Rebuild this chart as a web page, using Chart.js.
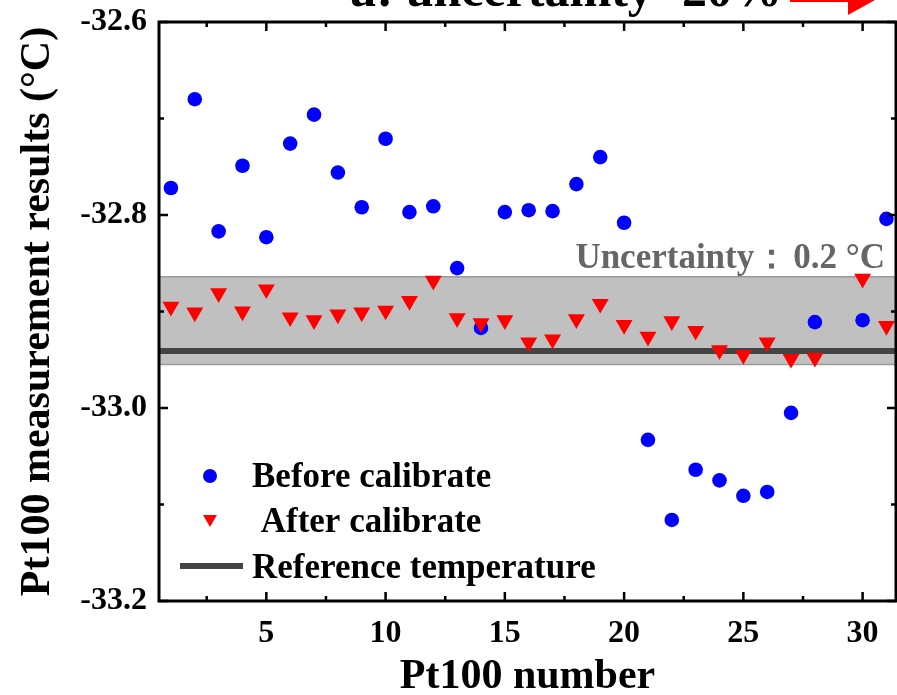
<!DOCTYPE html>
<html>
<head>
<meta charset="utf-8">
<script src="https://cdn.jsdelivr.net/npm/chart.js@4.4.0/dist/chart.umd.min.js"></script>
<style>
  html, body { margin: 0; padding: 0; background: #fff; overflow: hidden; }
  canvas { display: block; }
</style>
</head>
<body>
<canvas id="grafico" width="897" height="695"></canvas>
<script>
// --- DATOS ---
const numeros = [1, 2, 3, 4, 5, 6, 7, 8, 9, 10, 11, 12, 13, 14, 15, 16, 17, 18, 19, 20, 21, 22, 23, 24, 25, 26, 27, 28, 29, 30, 31];
const antes = [-32.772, -32.680, -32.817, -32.749, -32.823, -32.726, -32.696, -32.756, -32.792, -32.721,
  -32.797, -32.791, -32.855, -32.917, -32.797, -32.795, -32.796, -32.768, -32.740, -32.808,
  -33.033, -33.116, -33.064, -33.075, -33.091, -33.087, -33.005, -32.911, null, -32.909, -32.804];
const despues = [-32.895, -32.901, -32.881, -32.900, -32.877, -32.906, -32.909, -32.903, -32.901, -32.899,
  -32.889, -32.868, -32.907, -32.912, -32.909, -32.932, -32.929, -32.908, -32.892, -32.914,
  -32.926, -32.910, -32.920, -32.940, -32.945, -32.932, -32.949, -32.948, null, -32.866, -32.915];
const tempReferencia = -32.941;
const bandaSup = -32.864;
const bandaInf = -32.955;

const ticksX = [5, 10, 15, 20, 25, 30];
const menoresX = [2.5, 7.5, 12.5, 17.5, 22.5, 27.5];
const ticksY = [-33.2, -33.0, -32.8, -32.6];
const menoresY = [-33.1, -32.9, -32.7];

const fuente = "'Liberation Serif', 'Times New Roman', serif";

// --- PLUGINS ---
// banda gris de incertidumbre
const bandaPlugin = {
  id: 'banda',
  beforeDatasetsDraw(chart) {
    const { ctx, chartArea, scales } = chart;
    const y1 = scales.y.getPixelForValue(bandaSup);
    const y2 = scales.y.getPixelForValue(bandaInf);
    ctx.save();
    ctx.fillStyle = '#c0c0c0';
    ctx.fillRect(chartArea.left, y1, chartArea.right - chartArea.left, y2 - y1);
    ctx.strokeStyle = '#9a9a9a';
    ctx.lineWidth = 1.5;
    ctx.beginPath();
    ctx.moveTo(chartArea.left, y1); ctx.lineTo(chartArea.right, y1);
    ctx.moveTo(chartArea.left, y2); ctx.lineTo(chartArea.right, y2);
    ctx.stroke();
    ctx.restore();
  }
};

// marco, ticks hacia adentro, leyenda y textos
const marcoPlugin = {
  id: 'marco',
  afterDraw(chart) {
    const { ctx, chartArea, scales } = chart;
    const { left, right, top, bottom } = chartArea;
    ctx.save();

    ctx.strokeStyle = '#000';
    ctx.lineWidth = 2.5;
    ctx.beginPath();
    const tickX = (v, len) => {
      const px = scales.x.getPixelForValue(v);
      ctx.moveTo(px, bottom); ctx.lineTo(px, bottom - len);
      ctx.moveTo(px, top); ctx.lineTo(px, top + len);
    };
    const tickY = (v, len) => {
      const py = scales.y.getPixelForValue(v);
      ctx.moveTo(left, py); ctx.lineTo(left + len, py);
      ctx.moveTo(right, py); ctx.lineTo(right - len, py);
    };
    ticksX.forEach(v => tickX(v, 9));
    menoresX.forEach(v => tickX(v, 5));
    ticksY.forEach(v => tickY(v, 9));
    menoresY.forEach(v => tickY(v, 5));
    ctx.stroke();

    ctx.lineWidth = 3;
    ctx.strokeRect(left, top, right - left, bottom - top);

    // texto de incertidumbre
    ctx.fillStyle = '#666';
    ctx.font = 'bold 35px ' + fuente;
    ctx.textAlign = 'right';
    ctx.textBaseline = 'alphabetic';
    ctx.fillText('0.2 °C', 885, 268);
    const anchoValor = ctx.measureText('0.2 °C').width;
    ctx.fillText('Uncertainty：', 885 - anchoValor - 4, 268);

    // texto cortado arriba
    ctx.fillStyle = '#000';
    ctx.font = 'bold 50px ' + fuente;
    ctx.fillText('u: uncertainty -20%', 782, 6);

    // flecha roja
    ctx.fillStyle = '#ff0000';
    ctx.fillRect(790, -6, 60, 8);
    ctx.beginPath();
    ctx.moveTo(848, 15);
    ctx.lineTo(848, -25);
    ctx.lineTo(884, -5);
    ctx.closePath();
    ctx.fill();

    // leyenda
    const ds = chart.data.datasets;
    ctx.fillStyle = ds[1].backgroundColor;
    ctx.beginPath(); ctx.arc(210, 476, 7, 0, Math.PI * 2); ctx.fill();
    ctx.fillStyle = ds[2].backgroundColor;
    ctx.strokeStyle = ds[2].backgroundColor;
    Chart.helpers.drawPoint(ctx, { pointStyle: 'triangle', radius: 8, rotation: 180, borderWidth: 0 }, 210, 519);
    ctx.fillStyle = ds[0].borderColor;
    ctx.fillRect(180, 563, 63, 6);

    ctx.fillStyle = '#000';
    ctx.font = 'bold 35px ' + fuente;
    ctx.textAlign = 'left';
    ctx.fillText('Before calibrate', 252, 487);
    ctx.fillText(' After calibrate', 252, 532);
    ctx.fillText('Reference temperature', 252, 578);

    ctx.restore();
  }
};

// --- GRÁFICO ---
const ctx = document.getElementById('grafico').getContext('2d');

const chart = new Chart(ctx, {
  type: 'scatter',
  data: {
    datasets: [
      {
        label: 'Reference temperature',
        type: 'line',
        data: [{ x: 0.5, y: tempReferencia }, { x: 31.5, y: tempReferencia }],
        borderColor: '#444444',
        borderWidth: 6,
        pointRadius: 0,
        order: 3
      },
      {
        label: 'Before calibrate',
        data: numeros.map((n, i) => ({ x: n, y: antes[i] })),
        backgroundColor: '#0000ff',
        borderWidth: 0,
        pointRadius: 7.3,
        order: 2
      },
      {
        label: 'After calibrate',
        data: numeros.map((n, i) => ({ x: n, y: despues[i] })),
        backgroundColor: '#ff0000',
        borderWidth: 0,
        pointStyle: 'triangle',
        rotation: 180,
        pointRadius: 9.8,
        order: 1
      }
    ]
  },
  options: {
    responsive: false,
    animation: false,
    layout: { autoPadding: false, padding: { top: 22, right: 1, left: 0, bottom: 0 } },
    plugins: {
      legend: { display: false },
      tooltip: { enabled: false }
    },
    scales: {
      x: {
        type: 'linear',
        min: 0.5,
        max: 31.4,
        afterBuildTicks: s => { s.ticks = ticksX.map(v => ({ value: v })); },
        afterFit: s => { s.height = 94; s.paddingLeft = 0; s.paddingRight = 0; },
        grid: { display: false, drawTicks: false },
        border: { display: false },
        ticks: {
          padding: 14,
          color: '#000',
          font: { family: fuente, size: 32, weight: 'bold' }
        },
        title: {
          display: true,
          text: 'Pt100 number',
          color: '#000',
          padding: { top: 0, bottom: 0 },
          font: { family: fuente, size: 42, weight: 'bold', lineHeight: 0.86 }
        }
      },
      y: {
        min: -33.2,
        max: -32.6,
        afterBuildTicks: s => { s.ticks = ticksY.map(v => ({ value: v })); },
        afterFit: s => { s.width = 159; s.paddingTop = 0; s.paddingBottom = 0; },
        grid: { display: false, drawTicks: false },
        border: { display: false },
        ticks: {
          padding: 12,
          color: '#000',
          font: { family: fuente, size: 32, weight: 'bold' },
          callback: v => v.toFixed(1)
        },
        title: {
          display: true,
          text: 'Pt100 measurement results (°C)',
          color: '#000',
          padding: { top: 20, bottom: 0 },
          font: { family: fuente, size: 42, weight: 'bold', lineHeight: 0.86 }
        }
      }
    }
  },
  plugins: [bandaPlugin, marcoPlugin]
});
</script>
</body>
</html>
